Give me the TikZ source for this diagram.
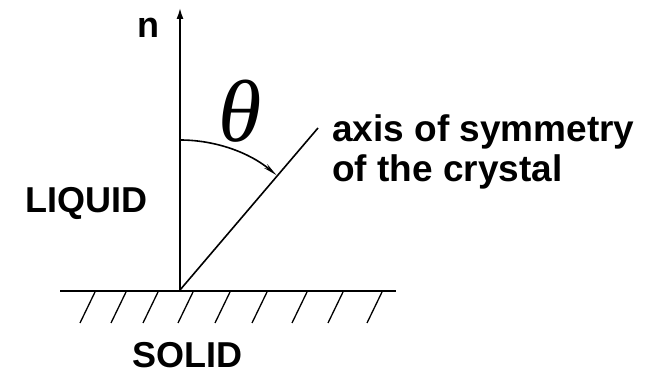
\documentclass[tikz,border=0pt]{standalone}
\usepackage{fontspec}
\setmainfont{Liberation Sans}
\newfontfamily\thfont{Liberation Serif}
\usetikzlibrary{arrows.meta}
\begin{document}
\begin{tikzpicture}[x=1pt,y=1pt,
  lbl/.style={inner sep=0pt,font=\fontsize{36}{40}\selectfont\bfseries},
  ln/.style={line width=1.6pt},
  hatch/.style={line width=1.3pt}]
\useasboundingbox (0,0) rectangle (662,375);
\coordinate (O) at (180,85);
\coordinate (top) at (180,367);
\coordinate (ax) at (318,247);
\coordinate (gl) at (60,84);
\coordinate (gr) at (396,84);
% normal
\draw[ln,-{Latex[length=11pt,width=7pt]}] (O) -- (top);
% axis
\draw[ln] (O) -- (ax);
% ground
\draw[line width=1.8pt] (gl) -- (gr);
\foreach \x in {95,126,158,193,230,267,307,343,382}
  \draw[hatch] (\x,83) -- (\x-15,52);
% arc
\draw[ln,-{Stealth[length=14pt,width=5pt]}] (180,235) arc[start angle=90,end angle=50,radius=150];
% labels
\node[lbl,anchor=base west] (n) at (137,337) {n};
\node[inner sep=0pt] (th) at (240,264) {\fontsize{88}{90}\selectfont\thfont\itshape θ};
\node[lbl,anchor=base west,font=\fontsize{37}{40}\selectfont\bfseries] (a1) at (332,233) {axis of symmetry};
\node[lbl,anchor=base west,font=\fontsize{37}{40}\selectfont\bfseries] (a2) at (332,193) {of the crystal};
\node[lbl,anchor=base west] (liq) at (25,162) {LIQUID};
\node[lbl,anchor=base west] (sol) at (132,7) {SOLID};
\end{tikzpicture}
\end{document}
